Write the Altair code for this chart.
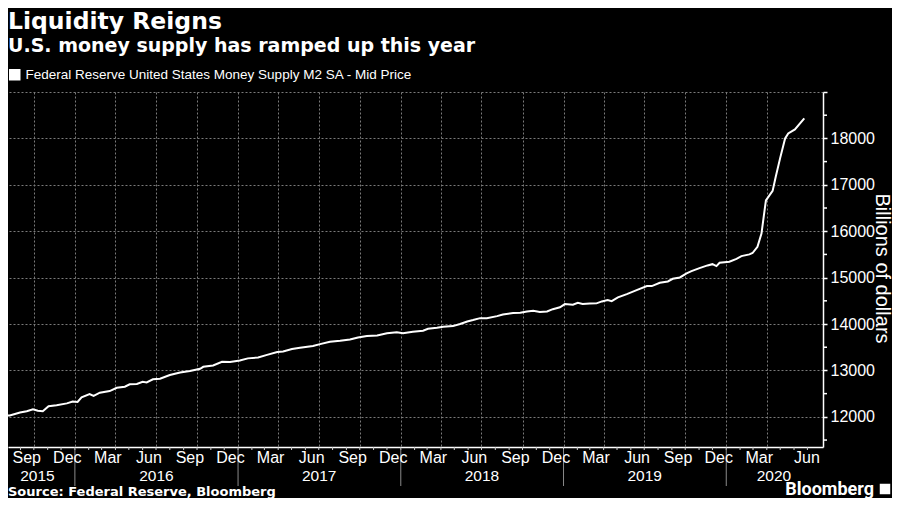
import altair as alt
import pandas as pd

# ---- data ----
dates = [
    "2015-07-17", "2015-08-08", "2015-08-31", "2015-09-15", "2015-09-29", "2015-10-10", "2015-10-21",
    "2015-11-03", "2015-11-21", "2015-12-14", "2015-12-27", "2016-01-07", "2016-01-16", "2016-02-03",
    "2016-02-12", "2016-02-26", "2016-03-19", "2016-04-04", "2016-04-22", "2016-05-03", "2016-05-19",
    "2016-06-01", "2016-06-10", "2016-06-24", "2016-07-10", "2016-08-01", "2016-08-24", "2016-09-15",
    "2016-10-08", "2016-10-15", "2016-11-06", "2016-11-26", "2016-12-14", "2017-01-05", "2017-01-23",
    "2017-02-15", "2017-03-07", "2017-03-30", "2017-04-12", "2017-05-02", "2017-05-20", "2017-06-18",
    "2017-07-04", "2017-07-26", "2017-08-18", "2017-09-09", "2017-09-27", "2017-10-17", "2017-11-09",
    "2017-12-01", "2017-12-23", "2018-01-06", "2018-01-28", "2018-02-20", "2018-03-03", "2018-03-23",
    "2018-04-06", "2018-04-28", "2018-05-14", "2018-05-30", "2018-06-12", "2018-06-28", "2018-07-13",
    "2018-08-05", "2018-08-18", "2018-09-10", "2018-09-26", "2018-10-11", "2018-10-25", "2018-11-09",
    "2018-11-25", "2018-12-08", "2018-12-24", "2019-01-04", "2019-01-22", "2019-02-02", "2019-02-13",
    "2019-03-01", "2019-03-16", "2019-03-28", "2019-04-10", "2019-04-19", "2019-05-03", "2019-05-23",
    "2019-06-14", "2019-07-07", "2019-07-18", "2019-08-05", "2019-08-23", "2019-09-03", "2019-09-19",
    "2019-10-04", "2019-10-15", "2019-11-02", "2019-11-20", "2019-12-01", "2019-12-10", "2019-12-17",
    "2020-01-08", "2020-01-24", "2020-02-04", "2020-02-22", "2020-02-29", "2020-03-11", "2020-03-20",
    "2020-03-27", "2020-03-30", "2020-04-14", "2020-04-21", "2020-05-01", "2020-05-12", "2020-05-19",
    "2020-06-03", "2020-06-24",
]
values = [
    12010, 12030, 12095, 12120, 12160, 12130, 12120,
    12230, 12250, 12290, 12330, 12320, 12420, 12490,
    12450, 12520, 12555, 12625, 12650, 12700, 12710,
    12755, 12740, 12810, 12820, 12900, 12955, 12990,
    13035, 13078, 13108, 13185, 13180, 13215, 13260,
    13280, 13335, 13395, 13410, 13460, 13490, 13525,
    13567, 13617, 13640, 13668, 13710, 13740, 13755,
    13800, 13820, 13800, 13833, 13855, 13897, 13920,
    13940, 13955, 14000, 14055, 14085, 14127, 14127,
    14170, 14207, 14235, 14242, 14270, 14285, 14257,
    14270, 14320, 14360, 14430, 14415, 14458, 14430,
    14440, 14445, 14487, 14515, 14494, 14573, 14645,
    14731, 14817, 14817, 14888, 14918, 14974, 15004,
    15090, 15140, 15205, 15263, 15290, 15248, 15320,
    15341, 15405, 15463, 15500, 15530, 15664, 15950,
    16455, 16665, 16870, 17172, 17580, 18000, 18108,
    18194, 18431,
]
series_name = "Federal Reserve United States Money Supply M2 SA - Mid Price"

month_label_dates = [
    "2015-09-15", "2015-12-15", "2016-03-15", "2016-06-15", "2016-09-15", "2016-12-15",
    "2017-03-15", "2017-06-15", "2017-09-15", "2017-12-15", "2018-03-15", "2018-06-15",
    "2018-09-15", "2018-12-15", "2019-03-15", "2019-06-15", "2019-09-15", "2019-12-15",
    "2020-03-15", "2020-06-30",
]
month_labels = ["Sep", "Dec", "Mar", "Jun", "Sep", "Dec", "Mar", "Jun", "Sep", "Dec",
                "Mar", "Jun", "Sep", "Dec", "Mar", "Jun", "Sep", "Dec", "Mar", "Jun"]

year_label_dates = ["2015-10-09", "2016-07-02", "2017-07-02", "2018-07-02", "2019-07-02", "2020-04-17"]
year_labels = ["2015", "2016", "2017", "2018", "2019", "2020"]
year_sep_dates = ["2016-01-01", "2017-01-01", "2018-01-01", "2019-01-01", "2020-01-01"]
# quarter starts (year, month) for the vertical dotted grid
quarter_grid = [(2015, 10), (2016, 1), (2016, 4), (2016, 7), (2016, 10), (2017, 1), (2017, 4),
                (2017, 7), (2017, 10), (2018, 1), (2018, 4), (2018, 7), (2018, 10), (2019, 1),
                (2019, 4), (2019, 7), (2019, 10), (2020, 1), (2020, 4)]
month_tick_dates = [d.strftime("%Y-%m-%d") for d in pd.date_range("2015-08-01", "2020-07-01", freq="MS")]

y_major_values = [12000, 13000, 14000, 15000, 16000, 17000, 18000, 19000]
y_minor_values = [11500, 12500, 13500, 14500, 15500, 16500, 17500, 18500]

title_text = "Liquidity Reigns"
subtitle_text = "U.S. money supply has ramped up this year"
source_text = "Source: Federal Reserve, Bloomberg"
brand_text = "Bloomberg"
y_title = "Billions of dollars"

# ---- layout ----
W, H = 815, 355
GRID = "#7a7a7a"
SANS = "Liberation Sans"
BOLD = "DejaVu Sans"

df = pd.DataFrame({"date": dates, "value": values, "series": series_name})

x_scale = alt.Scale(
    type="utc",
    domain=[alt.DateTime(year=2015, month=8, date=4, utc=True),
            alt.DateTime(year=2020, month=8, date=5, utc=True)],
)
y_scale = alt.Scale(domain=[11350, 19000], nice=False, zero=False)

x_axis = alt.Axis(title=None, labels=False, ticks=False,
                  values=[alt.DateTime(year=y, month=m, date=1, utc=True) for y, m in quarter_grid],
                  grid=True, gridColor=GRID, gridDash=[2, 2], gridWidth=1, gridOpacity=1,
                  domainColor="white", domainWidth=1.5)
y_axis = alt.Axis(orient="right", values=y_major_values,
                  grid=True, gridColor=GRID, gridDash=[2, 2], gridWidth=1, gridOpacity=1,
                  labelExpr="datum.value < 19000 ? format(datum.value, 'd') : ''",
                  tickSize=4, tickColor="white", tickWidth=1.5,
                  domainColor="white", domainWidth=1.5,
                  labelFont=SANS, labelFontSize=16, labelColor="white", labelPadding=3,
                  title=y_title, titleFont=SANS, titleFontSize=20, titleFontWeight="normal",
                  titleColor="white", titleAngle=90, titleX=58, titleY=176,
                  titleAlign="center", titleBaseline="middle")

line = alt.Chart(df).mark_line(strokeWidth=2, clip=True).encode(
    x=alt.X("date:T", scale=x_scale, axis=x_axis),
    y=alt.Y("value:Q", scale=y_scale, axis=y_axis),
    color=alt.Color("series:N", scale=alt.Scale(range=["white"]),
                    legend=alt.Legend(orient="none", legendX=0, legendY=-24, title=None,
                                      symbolType="square", symbolFillColor="white",
                                      symbolStrokeColor="white", symbolSize=100,
                                      labelFont=SANS, labelFontSize=13.5, labelColor="white",
                                      labelOffset=4, padding=0, labelLimit=800)),
)

yminor = alt.Chart(pd.DataFrame({"value": y_minor_values})).mark_rule(
    color="white", strokeWidth=1.5
).encode(y=alt.Y("value:Q", scale=y_scale, axis=y_axis), x=alt.value(W), x2=alt.value(W + 4))

mticks = alt.Chart(pd.DataFrame({"date": month_tick_dates})).mark_rule(
    color="#cccccc", strokeWidth=1
).encode(x=alt.X("date:T", scale=x_scale, axis=x_axis), y=alt.value(H), y2=alt.value(H + 3))

ysep = alt.Chart(pd.DataFrame({"date": year_sep_dates})).mark_rule(
    color="#8a8a8a", strokeWidth=1
).encode(x=alt.X("date:T", scale=x_scale, axis=x_axis), y=alt.value(H + 2), y2=alt.value(H + 39))

mlabels = alt.Chart(pd.DataFrame({"date": month_label_dates, "t": month_labels})).mark_text(
    font=SANS, fontSize=16, color="white", align="center", baseline="middle"
).encode(x=alt.X("date:T", scale=x_scale, axis=x_axis), y=alt.value(H + 11), text="t:N")

ylabels = alt.Chart(pd.DataFrame({"date": year_label_dates, "t": year_labels})).mark_text(
    font=SANS, fontSize=15.5, color="white", align="center", baseline="middle"
).encode(x=alt.X("date:T", scale=x_scale, axis=x_axis), y=alt.value(H + 28.5), text="t:N")

title = alt.Chart(pd.DataFrame({"t": [title_text]})).mark_text(
    font=BOLD, fontSize=23.5, fontWeight="bold", color="white", align="left", baseline="alphabetic"
).encode(x=alt.value(0), y=alt.value(-63.5), text="t:N")

subtitle = alt.Chart(pd.DataFrame({"t": [subtitle_text]})).mark_text(
    font=BOLD, fontSize=19, fontWeight="bold", color="white", align="left", baseline="alphabetic"
).encode(x=alt.value(0), y=alt.value(-40), text="t:N")

source = alt.Chart(pd.DataFrame({"t": [source_text]})).mark_text(
    font=BOLD, fontSize=13, fontWeight="bold", color="white", align="left", baseline="alphabetic"
).encode(x=alt.value(0), y=alt.value(404), text="t:N")

brand = alt.Chart(pd.DataFrame({"t": [brand_text]})).mark_text(
    font="Roboto", fontSize=18, fontWeight="bold", color="white", align="right", baseline="alphabetic"
).encode(x=alt.value(866), y=alt.value(402.5), text="t:N")

logo = alt.Chart(pd.DataFrame({"t": [brand_text]})).mark_square(
    color="white", opacity=1, size=110, cornerRadius=2
).encode(x=alt.value(877), y=alt.value(397))

chart = alt.layer(
    line, yminor, mticks, ysep, mlabels, ylabels, title, subtitle, source, brand, logo
).properties(
    width=W, height=H,
    background="black",
    padding={"left": 0, "top": 84, "right": 69, "bottom": 51},
    autosize=alt.AutoSizeParams(type="none"),
).configure_view(stroke=None)

chart.save("out.html", embed_options={"renderer": "svg", "actions": False})
